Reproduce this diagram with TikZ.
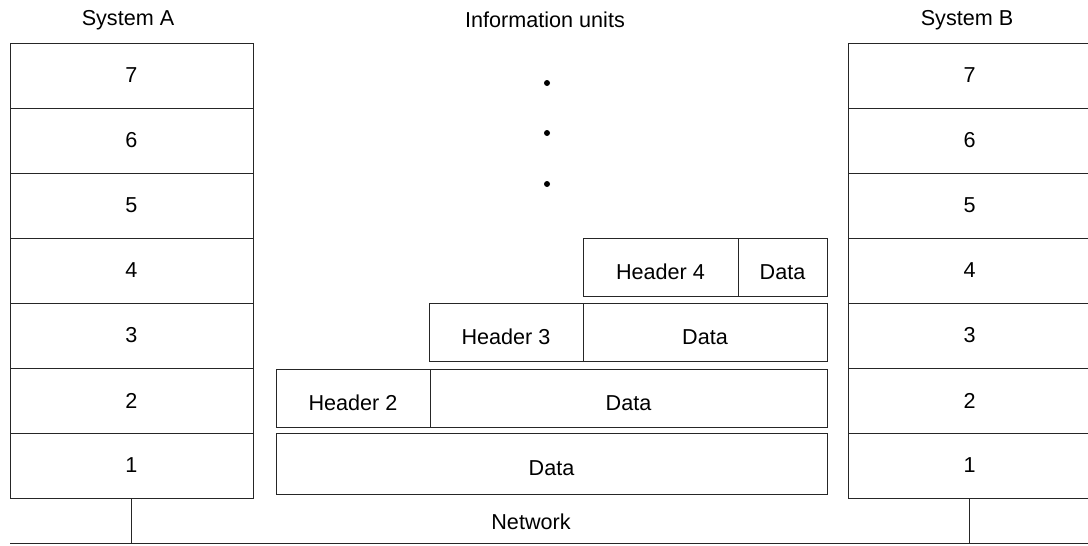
\documentclass[tikz,border=0pt]{standalone}
\usepackage{fontspec}
\setmainfont{Liberation Sans}
\usepackage{xcolor}

\begin{document}
\begin{tikzpicture}[
    x=0.5pt, y=-0.5pt,
    every node/.style={align=center, font=\fontsize{10.8}{13}\selectfont},
    layer/.style={rectangle, draw=black!85, line width=0.5pt, minimum width=121.5pt, minimum height=32.5pt, inner sep=0pt},
    cell/.style={rectangle, draw=black!85, line width=0.5pt, minimum height=29pt, inner sep=0pt, text height=12pt, text depth=0pt},
    title/.style={inner sep=0pt},
    dot/.style={circle, fill=black, minimum size=3pt, inner sep=0pt},
    wire/.style={draw=black!85, line width=0.5pt}
]
\useasboundingbox (0,0) rectangle (1088,546);

% System A
\node[title] (sysA) at (128, 20) {System A};
\node[layer] (a7) at (131.5, 75.5) {7};
\node[layer] (a6) at (131.5, 140.5) {6};
\node[layer] (a5) at (131.5, 205.5) {5};
\node[layer] (a4) at (131.5, 270.5) {4};
\node[layer] (a3) at (131.5, 335.5) {3};
\node[layer] (a2) at (131.5, 400.5) {2};
\node[layer] (a1) at (131.5, 465.5) {1};

% System B
\node[title] (sysB) at (967, 20) {System B};
\node[layer] (b7) at (969.5, 75.5) {7};
\node[layer] (b6) at (969.5, 140.5) {6};
\node[layer] (b5) at (969.5, 205.5) {5};
\node[layer] (b4) at (969.5, 270.5) {4};
\node[layer] (b3) at (969.5, 335.5) {3};
\node[layer] (b2) at (969.5, 400.5) {2};
\node[layer] (b1) at (969.5, 465.5) {1};

% Information units
\node[title] (units) at (545, 20) {Information units};
\node[dot] (dot1) at (547, 83) {};
\node[dot] (dot2) at (547, 133) {};
\node[dot] (dot3) at (547, 184) {};

\node[cell, minimum width=77.5pt] (head4) at (660.5, 267) {Header 4};
\node[cell, minimum width=44.5pt] (data4) at (782.5, 267) {Data};
\node[cell, minimum width=77pt] (head3) at (506, 332) {Header 3};
\node[cell, minimum width=122pt] (data3) at (705, 332) {Data};
\node[cell, minimum width=77pt] (head2) at (353, 398) {Header 2};
\node[cell, minimum width=198.5pt] (data2) at (628.5, 398) {Data};
\node[cell, minimum width=275.5pt, minimum height=30.5pt] (data1) at (551.5, 463.5) {Data};

% Network
\coordinate (netL) at (10, 543);
\coordinate (netR) at (1088, 543);
\draw[wire] (netL) -- (netR);
\draw[wire] (a1.south) -- (a1.south |- netL);
\draw[wire] (b1.south) -- (b1.south |- netL);
\node[title] (net) at (531, 522) {Network};

\end{tikzpicture}
\end{document}
